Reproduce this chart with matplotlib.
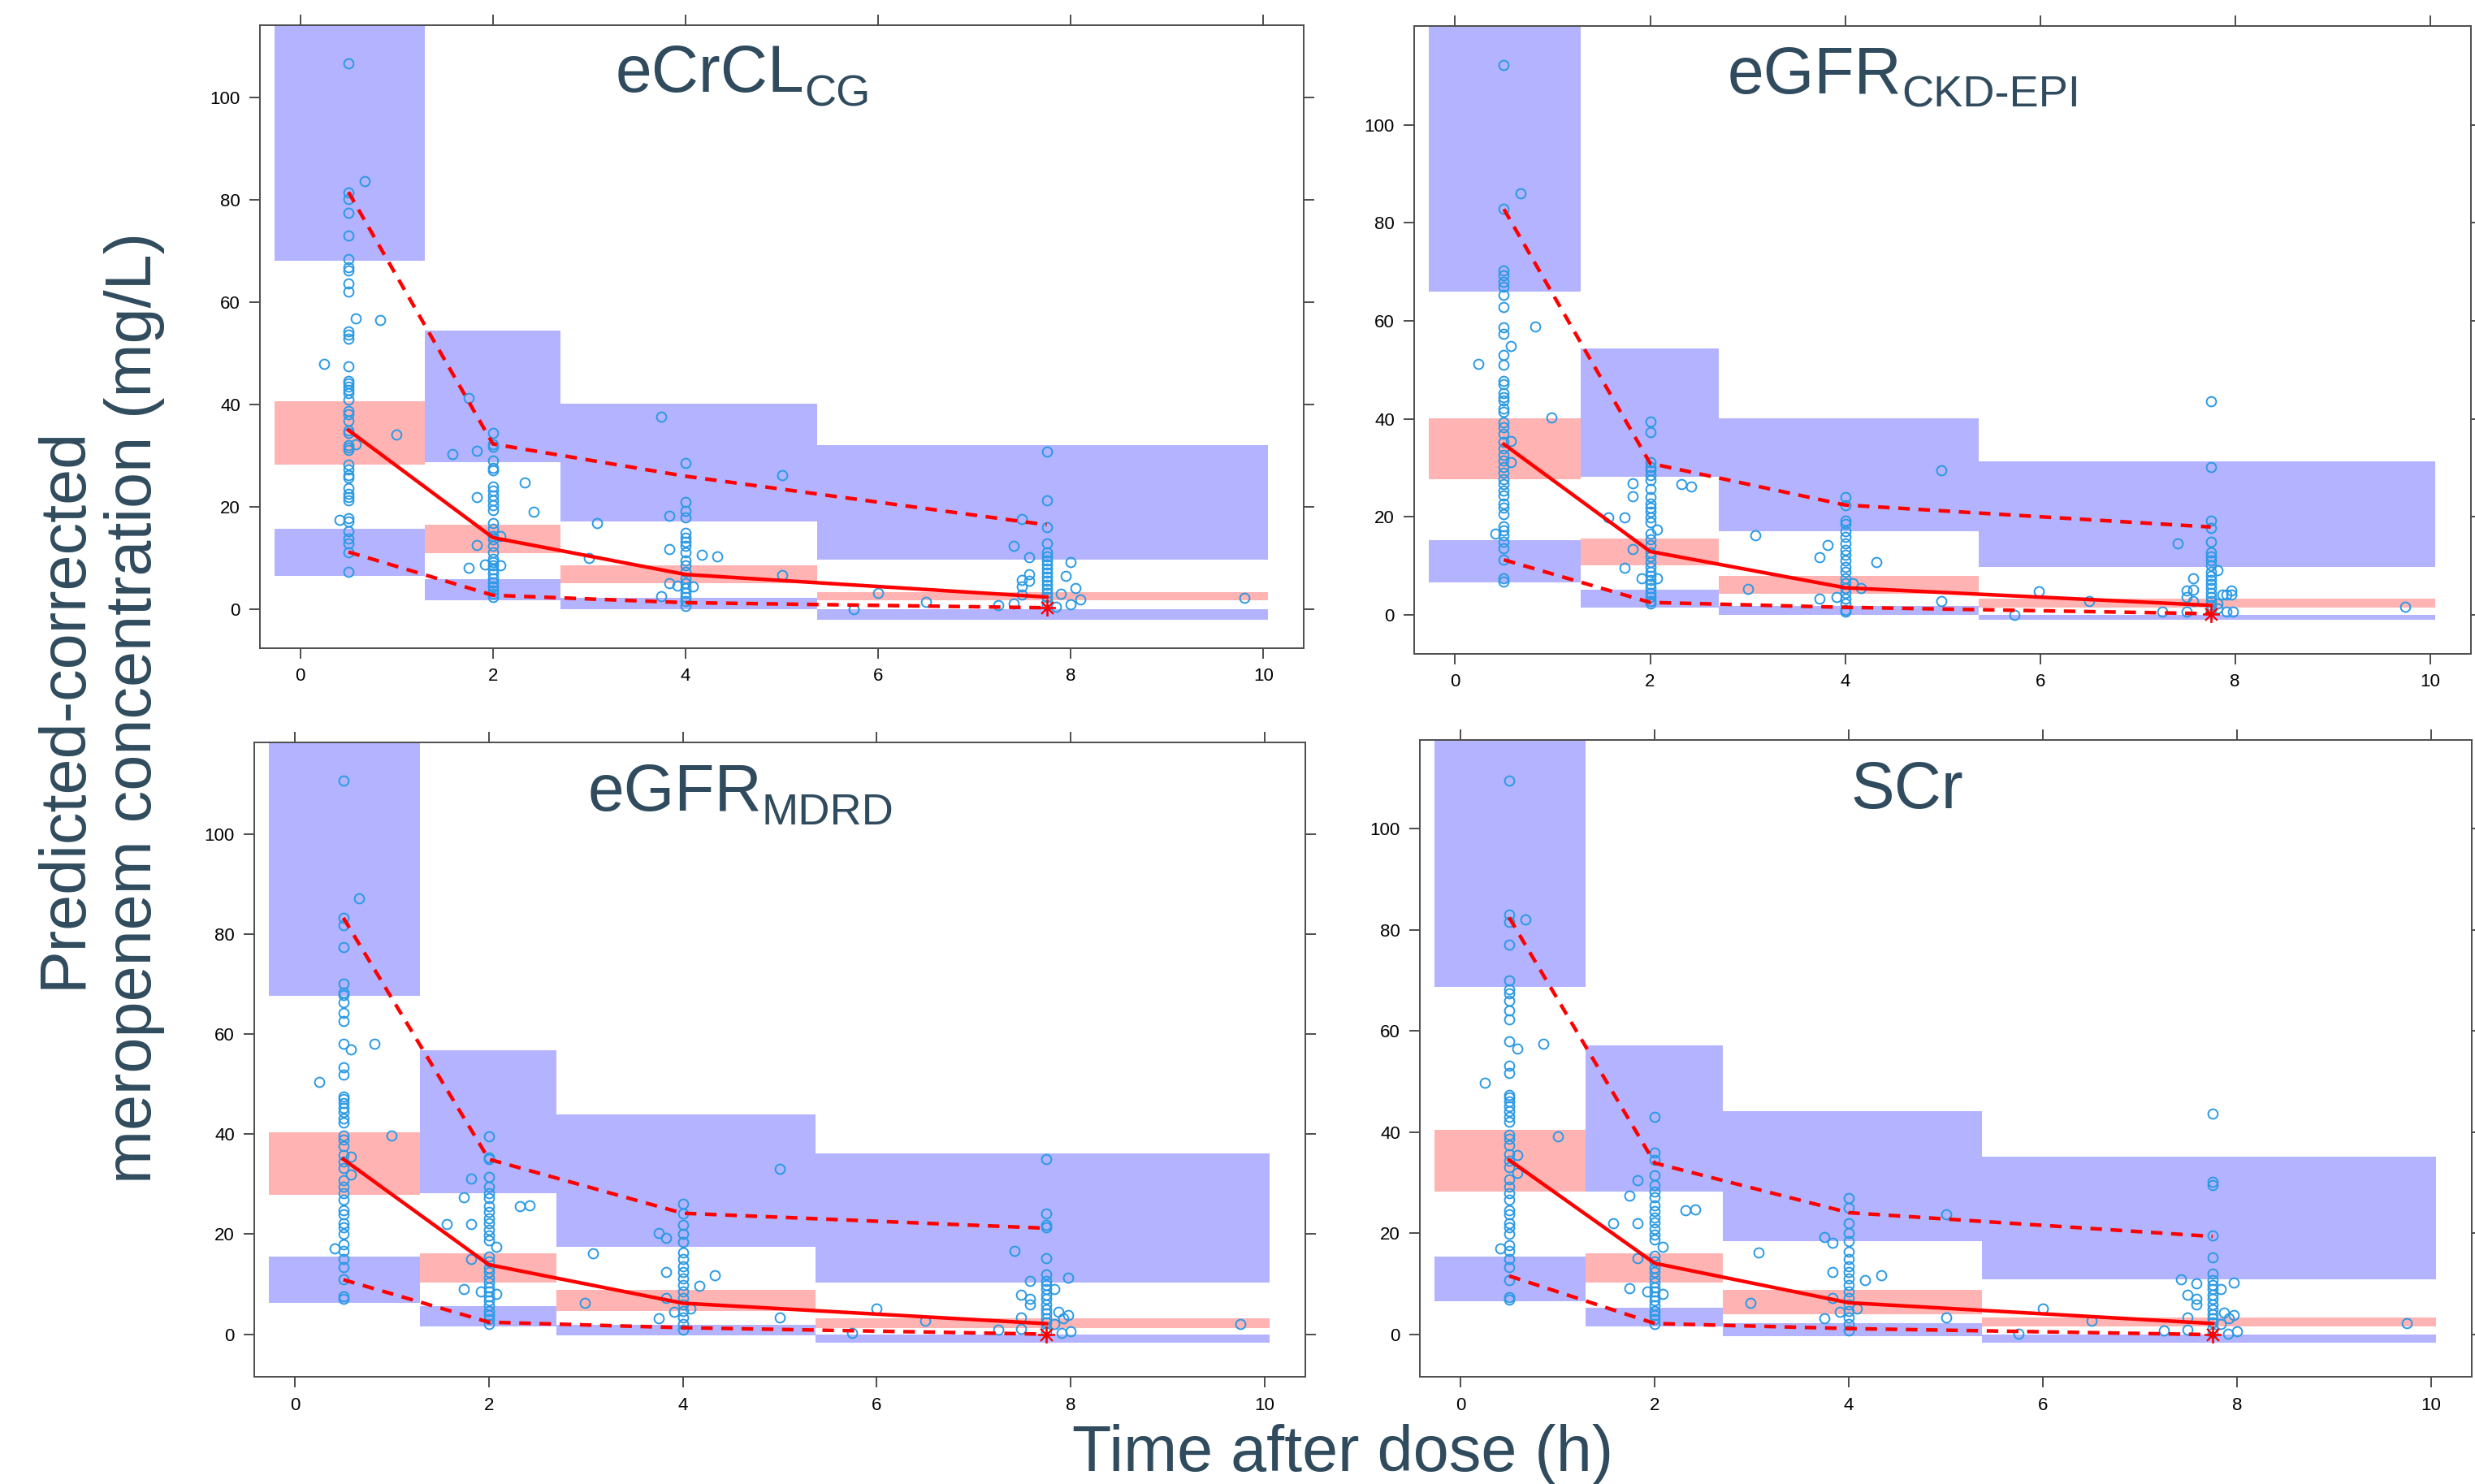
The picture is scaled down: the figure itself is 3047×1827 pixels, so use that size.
import numpy as np
import matplotlib.pyplot as plt

plt.rcParams['font.family'] = ['Liberation Sans', 'DejaVu Sans']

# shared binning of the VPC
bin_edges = [-0.27, 1.29, 2.70, 5.37, 10.05]
bin_t = [0.5, 2.0, 4.0, 7.75]

# ---------------- eCrCL_CG ----------------
cg_col05 = [106.6, 81.5, 80.2, 77.4, 73.0, 68.4, 66.8, 66.2, 63.7, 62.0, 54.3, 53.7, 52.8, 47.5,
            44.6, 44.1, 43.5, 42.9, 42.3, 41.0, 38.8, 38.1, 36.9, 35.0, 34.4, 32.1, 31.6, 31.1,
            28.2, 27.3, 26.2, 25.7, 23.6, 22.5, 21.9, 21.3, 17.8, 17.1, 15.3, 13.8, 12.8, 11.1, 7.4]
cg_col2 = [34.4, 32.3, 31.7, 29.0, 27.7, 27.1, 24.0, 23.2, 22.3, 21.3, 20.3, 19.4, 16.8, 15.7,
           14.3, 13.6, 12.4, 11.1, 9.9, 9.3, 8.6, 7.8, 7.0, 6.1, 5.3, 4.5, 3.7, 3.0, 2.4]
cg_col4 = [28.6, 20.9, 19.3, 17.9, 14.9, 14.0, 13.2, 12.4, 11.1, 9.6, 8.6, 7.4, 6.1, 5.1, 4.1,
           3.2, 2.4, 1.6, 0.7]
cg_col775 = [30.8, 21.3, 16.1, 12.8, 11.1, 10.3, 9.5, 8.7, 7.9, 7.1, 6.3, 5.6, 4.8, 4.0, 3.2,
             2.4, 1.6, 0.8]
cg_other_t = [0.67, 0.58, 0.83, 0.25, 1.0, 0.58, 0.41,
              1.75, 1.58, 1.83, 2.33, 2.42, 1.83, 2.08, 1.83, 1.75, 1.92, 2.08,
              3.08, 3.0, 3.75, 3.83, 3.83, 4.17, 4.33, 3.83, 3.92, 4.08, 3.75, 5.0, 5.0,
              6.0, 5.75, 6.5, 7.25, 7.49, 7.41, 7.57, 7.49, 7.49, 7.49, 7.57, 7.57, 7.41,
              8.0, 7.95, 8.05, 7.9, 8.1, 8.0, 7.85, 9.8]
cg_other_c = [83.6, 56.8, 56.5, 47.9, 34.1, 32.3, 17.4,
              41.3, 30.4, 30.9, 24.7, 19.1, 21.9, 14.3, 12.6, 8.1, 8.8, 8.6,
              16.8, 10.0, 37.7, 18.3, 11.7, 10.7, 10.3, 5.1, 4.7, 4.5, 2.5, 26.2, 6.7,
              3.2, 0.1, 1.5, 0.8, 17.7, 12.4, 10.1, 5.8, 4.5, 2.9, 6.9, 5.6, 1.1,
              9.2, 6.5, 4.2, 3.0, 2.0, 1.0, 0.5, 2.3]
cg_median = [35.0, 14.0, 6.8, 2.4]
cg_p95 = [81.5, 32.3, 26.0, 16.5]
cg_p05 = [11.2, 2.75, 1.3, 0.3]
cg_hi_band = [(68.1, 140), (28.7, 54.5), (17.1, 40.2), (9.7, 32.1)]
cg_med_band = [(28.2, 40.6), (11.0, 16.5), (5.1, 8.6), (1.7, 3.4)]
cg_lo_band = [(6.6, 15.7), (1.8, 5.9), (0.1, 2.2), (-2.0, 0.1)]

# ---------------- eGFR_CKD-EPI ----------------
ckd_col05 = [112.2, 82.8, 70.3, 69.2, 67.9, 66.9, 65.3, 62.8, 58.7, 57.4, 53.0, 51.1, 47.7, 47.0,
             45.2, 44.4, 43.7, 42.0, 41.5, 39.2, 38.3, 37.0, 35.3, 34.0, 32.7, 31.4, 30.1, 28.9,
             27.6, 26.6, 25.3, 24.4, 22.7, 21.8, 20.5, 18.1, 17.2, 16.2, 14.9, 13.6, 11.2, 7.4, 6.8]
ckd_col2 = [39.4, 37.2, 31.1, 30.2, 29.4, 28.5, 27.5, 25.7, 24.0, 22.7, 21.8, 21.0, 19.8, 18.8,
            16.6, 15.3, 14.3, 12.7, 11.9, 10.8, 9.7, 8.8, 8.0, 7.1, 6.2, 5.4, 4.5, 3.6, 2.8, 2.2]
ckd_col4 = [24.0, 22.4, 19.2, 18.6, 17.1, 15.8, 14.5, 13.2, 12.3, 11.0, 9.7, 8.8, 7.5, 6.5, 5.4,
            4.5, 3.2, 2.2, 1.0, 0.6]
ckd_col775 = [43.6, 30.1, 19.2, 17.7, 14.9, 12.7, 11.9, 11.0, 10.1, 8.8, 8.0, 7.1, 6.2, 5.4, 4.5,
              3.6, 2.8, 1.9, 1.0]
ckd_other_t = [0.67, 0.82, 0.57, 0.24, 0.99, 0.57, 0.57, 0.41,
               1.82, 1.82, 2.32, 2.42, 1.57, 1.74, 2.07, 1.82, 1.74, 1.91, 2.07,
               3.08, 3.0, 3.74, 3.82, 3.74, 4.32, 4.16, 4.08, 3.91, 4.99, 4.99,
               5.99, 5.74, 6.5, 7.25, 7.41, 7.5, 7.5, 7.5, 7.57, 7.57, 7.57,
               7.82, 7.87, 7.91, 7.96, 7.96, 7.82, 7.91, 7.98, 7.82, 9.74]
ckd_other_c = [86.1, 58.9, 54.8, 51.2, 40.2, 35.4, 31.1, 16.6,
               26.8, 24.2, 26.6, 26.1, 19.9, 19.9, 17.3, 13.4, 9.5, 7.4, 7.4,
               16.2, 5.3, 3.2, 14.3, 11.7, 10.8, 5.4, 6.5, 3.6, 29.5, 2.8,
               4.8, 0.0, 2.8, 0.6, 14.6, 0.6, 4.9, 3.6, 7.5, 5.1, 2.8,
               9.1, 4.1, 4.1, 4.9, 4.1, 2.3, 0.6, 0.6, 1.3, 1.6]
ckd_median = [34.8, 12.9, 5.5, 1.9]
ckd_p95 = [82.8, 30.9, 22.4, 17.9]
ckd_p05 = [11.2, 2.5, 1.5, 0.2]
ckd_hi_band = [(65.9, 140), (28.2, 54.4), (17.1, 40.1), (9.7, 31.3)]
ckd_med_band = [(27.6, 40.1), (10.1, 15.5), (4.3, 8.0), (1.5, 3.2)]
ckd_lo_band = [(6.6, 15.2), (1.5, 5.1), (0.0, 1.8), (-1.1, 0.0)]

# ---------------- eGFR_MDRD ----------------
mdrd_col05 = [110.7, 83.3, 81.8, 77.4, 70.1, 68.4, 67.9, 66.4, 64.3, 62.6, 58.1, 53.4, 51.9, 47.6,
              47.0, 46.2, 45.3, 44.4, 43.2, 42.3, 39.7, 38.9, 37.6, 35.9, 34.6, 33.3, 30.8, 29.5,
              28.2, 26.9, 24.8, 23.9, 22.2, 21.4, 20.1, 17.9, 16.7, 15.1, 13.4, 10.9, 7.5, 7.0]
mdrd_col2 = [39.6, 35.3, 35.0, 31.5, 29.5, 28.2, 27.2, 25.6, 24.4, 23.1, 22.2, 20.9, 19.8, 18.8,
             15.6, 14.5, 13.2, 12.4, 11.3, 10.3, 9.4, 8.5, 7.5, 6.7, 5.8, 4.7, 3.8, 3.0, 2.1]
mdrd_col4 = [26.1, 24.2, 21.8, 20.1, 18.4, 16.4, 15.0, 13.5, 12.4, 11.1, 9.8, 8.5, 7.3, 6.0, 4.7,
             3.4, 2.1, 0.9]
mdrd_col775 = [35.0, 24.2, 21.8, 21.4, 15.2, 12.0, 10.7, 9.8, 9.0, 7.9, 7.0, 6.0, 5.0, 4.1, 3.2,
               2.4, 1.3, 0.4]
mdrd_other_t = [0.66, 0.82, 0.58, 0.25, 1.0, 0.58, 0.58, 0.41,
                1.82, 1.74, 2.32, 2.42, 1.57, 1.82, 2.08, 1.82, 1.74, 1.92, 2.08,
                3.07, 2.99, 3.75, 3.75, 3.83, 3.83, 4.33, 4.17, 4.08, 3.91, 3.83, 5.0, 5.0,
                6.0, 5.75, 6.5, 7.25, 7.42, 7.49, 7.49, 7.49, 7.58, 7.58, 7.58,
                7.97, 7.83, 7.87, 7.97, 7.92, 7.83, 8.0, 7.91, 9.75]
mdrd_other_c = [87.2, 58.1, 57.0, 50.4, 39.7, 35.5, 31.9, 17.1,
                31.2, 27.4, 25.6, 25.8, 22.0, 22.0, 17.4, 15.1, 9.1, 8.5, 8.1,
                16.2, 6.2, 3.2, 20.3, 19.2, 12.4, 11.8, 9.7, 5.1, 4.5, 7.3, 33.1, 3.4,
                5.1, 0.2, 2.7, 0.9, 16.7, 7.9, 3.4, 1.0, 10.7, 7.0, 6.0,
                11.3, 9.0, 4.4, 3.8, 3.2, 2.1, 0.6, 0.2, 2.1]
mdrd_median = [35.0, 13.9, 6.2, 2.1]
mdrd_p95 = [83.3, 35.0, 24.2, 21.2]
mdrd_p05 = [10.9, 2.4, 1.3, 0.0]
mdrd_hi_band = [(67.7, 140), (28.2, 56.8), (17.5, 43.9), (10.3, 36.1)]
mdrd_med_band = [(27.8, 40.4), (10.4, 16.2), (4.7, 8.9), (1.3, 3.2)]
mdrd_lo_band = [(6.2, 15.6), (1.5, 5.6), (-0.2, 1.9), (-1.7, 0.0)]

# ---------------- SCr ----------------
scr_col05 = [109.5, 83.0, 81.5, 77.0, 70.0, 68.2, 67.5, 66.0, 64.0, 62.3, 58.0, 53.2, 51.7, 47.4,
             46.8, 46.0, 45.1, 44.2, 43.0, 42.1, 39.5, 38.7, 37.4, 35.7, 34.4, 33.1, 30.6, 29.3,
             28.0, 26.7, 24.6, 23.7, 22.0, 21.2, 19.9, 17.7, 16.5, 15.0, 13.3, 10.8, 7.4, 6.9]
scr_col2 = [43.0, 36.0, 34.5, 31.5, 29.5, 28.2, 27.2, 25.6, 24.4, 23.1, 22.2, 20.9, 19.8, 18.8,
            15.6, 14.5, 13.2, 12.4, 11.3, 10.3, 9.4, 8.5, 7.5, 6.7, 5.8, 4.7, 3.8, 3.0, 2.1]
scr_col4 = [27.0, 25.0, 22.0, 20.1, 18.4, 16.4, 15.0, 13.5, 12.4, 11.1, 9.8, 8.5, 7.3, 6.0, 4.7,
            3.4, 2.1, 0.9]
scr_col775 = [43.6, 30.2, 29.5, 19.6, 15.2, 12.0, 10.7, 9.8, 9.0, 7.9, 7.0, 6.0, 5.0, 4.1, 3.2,
              2.4, 1.3, 0.4]
scr_other_t = [0.67, 0.85, 0.58, 0.25, 1.0, 0.58, 0.58, 0.41,
               1.82, 1.74, 2.32, 2.42, 1.57, 1.82, 2.08, 1.82, 1.74, 1.92, 2.08,
               3.07, 2.99, 3.75, 3.75, 3.83, 3.83, 4.33, 4.17, 4.08, 3.91, 3.83, 5.0, 5.0,
               6.0, 5.75, 6.5, 7.25, 7.42, 7.49, 7.49, 7.49, 7.58, 7.58, 7.58,
               7.97, 7.83, 7.87, 7.97, 7.92, 7.83, 8.0, 7.91, 9.75]
scr_other_c = [82.1, 57.4, 56.5, 49.8, 39.2, 35.5, 31.9, 17.1,
               30.5, 27.4, 24.6, 24.8, 22.0, 22.0, 17.4, 15.1, 9.1, 8.5, 8.1,
               16.2, 6.2, 3.2, 19.3, 18.2, 12.4, 11.8, 10.7, 5.1, 4.5, 7.3, 23.8, 3.4,
               5.1, 0.2, 2.7, 0.9, 11.0, 7.9, 3.4, 1.0, 10.2, 7.0, 6.0,
               10.3, 9.0, 4.4, 3.8, 3.2, 2.1, 0.6, 0.2, 2.2]
scr_median = [34.5, 14.1, 6.3, 2.2]
scr_p95 = [82.4, 33.9, 24.1, 19.4]
scr_p05 = [11.6, 2.2, 1.2, 0.0]
scr_hi_band = [(68.7, 140), (28.2, 57.1), (18.5, 44.2), (11.0, 35.1)]
scr_med_band = [(28.2, 40.4), (10.3, 16.0), (4.1, 8.8), (1.6, 3.4)]
scr_lo_band = [(6.6, 15.4), (1.6, 5.3), (-0.3, 2.2), (-1.6, 0.0)]

panels = [
    dict(main='eCrCL', sub='CG', ylim=(-7.6, 114.1), pos=[0.1050, 0.5632, 0.4218, 0.4198],
         cols=[cg_col05, cg_col2, cg_col4, cg_col775], ot=cg_other_t, oc=cg_other_c,
         med=cg_median, p95=cg_p95, p05=cg_p05,
         bands=[cg_hi_band, cg_med_band, cg_lo_band]),
    dict(main='eGFR', sub='CKD-EPI', ylim=(-8.0, 120.2), pos=[0.5714, 0.5594, 0.4270, 0.4231],
         cols=[ckd_col05, ckd_col2, ckd_col4, ckd_col775], ot=ckd_other_t, oc=ckd_other_c,
         med=ckd_median, p95=ckd_p95, p05=ckd_p05,
         bands=[ckd_hi_band, ckd_med_band, ckd_lo_band]),
    dict(main='eGFR', sub='MDRD', ylim=(-8.6, 118.4), pos=[0.1027, 0.0720, 0.4247, 0.4277],
         cols=[mdrd_col05, mdrd_col2, mdrd_col4, mdrd_col775], ot=mdrd_other_t, oc=mdrd_other_c,
         med=mdrd_median, p95=mdrd_p95, p05=mdrd_p05,
         bands=[mdrd_hi_band, mdrd_med_band, mdrd_lo_band]),
    dict(main='SCr', sub='', ylim=(-8.4, 117.5), pos=[0.5737, 0.0720, 0.4250, 0.4294],
         cols=[scr_col05, scr_col2, scr_col4, scr_col775], ot=scr_other_t, oc=scr_other_c,
         med=scr_median, p95=scr_p95, p05=scr_p05,
         bands=[scr_hi_band, scr_med_band, scr_lo_band]),
]

blue_pi = '#B3B3FF'
red_pi = '#FFB3B3'
pt_col = '#2A9AE5'
txt_col = '#2F4B5D'
axis_col = '#4D4D4D'

fig = plt.figure(figsize=(30.47, 18.27), dpi=100)
edges = np.array(bin_edges)
widths = np.diff(edges)

titles = []
for p in panels:
    ax = fig.add_axes(p['pos'])
    band_cols = [blue_pi, red_pi, blue_pi]
    for band, c in zip(p['bands'], band_cols):
        lo = np.array([b[0] for b in band])
        hi = np.array([b[1] for b in band])
        ax.bar(edges[:-1], hi - lo, width=widths, bottom=lo, align='edge',
               color=c, linewidth=0, zorder=1)

    xs = np.concatenate([np.full(len(c), t) for c, t in zip(p['cols'], bin_t)] + [p['ot']])
    ys = np.concatenate([np.array(c) for c in p['cols']] + [p['oc']])
    ax.plot(xs, ys, 'o', ms=8.5, mfc='none', mec=pt_col, mew=1.4, zorder=2)

    ax.plot(bin_t, p['med'], '-', color='red', lw=3.2, zorder=3)
    for perc in (p['p95'], p['p05']):
        ax.plot(bin_t, perc, '--', color='red', lw=3.2, dashes=(3.2, 2.4), zorder=3)
    ax.plot([bin_t[-1]], [p['p05'][-1]], marker=(8, 2, 0), color='red', ms=15,
            mew=1.3, zorder=4)

    ax.set_xlim(-0.42, 10.42)
    ax.set_ylim(*p['ylim'])
    ax.set_xticks([0, 2, 4, 6, 8, 10])
    ax.set_yticks([0, 20, 40, 60, 80, 100])
    ax.tick_params(direction='out', length=9.4, width=1.4, color=axis_col,
                   top=True, right=True, labeltop=False, labelright=False,
                   labelsize=16, pad=8, labelcolor='black')
    for s in ax.spines.values():
        s.set_color(axis_col)
        s.set_linewidth(1.4)

    t1 = ax.text(0.3, 0.893, p['main'], transform=ax.transAxes, ha='left',
                 va='baseline', fontsize=58, color=txt_col, zorder=5)
    t2 = ax.annotate(p['sub'], xy=(1, 0), xycoords=t1, ha='left', va='baseline',
                     fontsize=39, color=txt_col, zorder=5)
    titles.append((ax, t1, t2))

fig.canvas.draw()
r = fig.canvas.get_renderer()
for ax, t1, t2 in titles:
    w = t1.get_window_extent(r).width
    if t2.get_text():
        w += t2.get_window_extent(r).width
    aw = ax.get_window_extent(r).width
    t1.set_x(0.463 - w / 2 / aw)

fig.text(0.0400, 0.523, 'Predicted-corrected\nmeropenem concentration (mg/L)',
         rotation=90, ha='center', va='center', fontsize=57, color=txt_col,
         linespacing=1.2)
fig.text(0.5426, 0.0090, 'Time after dose (h)', ha='center', va='baseline',
         fontsize=57, color=txt_col)

fig.savefig('out.png', dpi=100)
